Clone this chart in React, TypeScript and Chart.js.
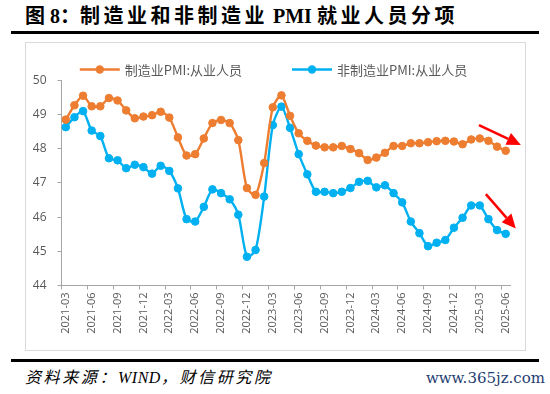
import React, { useEffect, useRef } from "react";
import { Chart, registerables } from "chart.js";

Chart.register(...registerables);

const categories = [
  "2021-03", "2021-04", "2021-05", "2021-06", "2021-07", "2021-08", "2021-09", "2021-10", "2021-11", "2021-12",
  "2022-01", "2022-02", "2022-03", "2022-04", "2022-05", "2022-06", "2022-07", "2022-08", "2022-09", "2022-10", "2022-11", "2022-12",
  "2023-01", "2023-02", "2023-03", "2023-04", "2023-05", "2023-06", "2023-07", "2023-08", "2023-09", "2023-10", "2023-11", "2023-12",
  "2024-01", "2024-02", "2024-03", "2024-04", "2024-05", "2024-06", "2024-07", "2024-08", "2024-09", "2024-10", "2024-11", "2024-12",
  "2025-01", "2025-02", "2025-03", "2025-04", "2025-05", "2025-06",
];

const manufacturing = [
  48.85, 49.27, 49.55, 49.24, 49.24, 49.48, 49.41, 49.12, 48.89, 48.94,
  48.98, 49.08, 48.91, 48.33, 47.80, 47.84, 48.30, 48.75, 48.84, 48.75, 48.25, 46.85,
  46.65, 47.58, 49.21, 49.56, 48.96, 48.45, 48.23, 48.09, 48.04, 48.04, 48.08, 47.99,
  47.87, 47.67, 47.74, 47.88, 48.08, 48.08, 48.16, 48.16, 48.19, 48.22, 48.23, 48.21,
  48.13, 48.27, 48.30, 48.23, 48.06, 47.94,
];

const nonManufacturing = [
  48.63, 48.92, 49.10, 48.53, 48.37, 47.72, 47.66, 47.43, 47.53, 47.46,
  47.27, 47.50, 47.35, 46.84, 45.94, 45.87, 46.30, 46.81, 46.70, 46.52, 46.07, 44.84,
  45.04, 46.60, 48.69, 49.23, 48.61, 47.84, 47.25, 46.74, 46.74, 46.70, 46.74, 46.85,
  47.03, 47.06, 46.87, 46.93, 46.70, 46.43, 45.87, 45.53, 45.15, 45.25, 45.33, 45.69,
  45.98, 46.34, 46.34, 45.94, 45.62, 45.51,
];

const seriesLabels = ["制造业PMI:从业人员", "非制造业PMI:从业人员"];
const seriesColors = ["#ED7D31", "#00B0F0"];
const yMin = 44;
const yMax = 50;
const tickEvery = 3;

// trend arrows in data units: [fromIndex, fromValue, toIndex, toValue]
const trendArrows = [
  [47.9, 48.69, 52.76, 48.11],
  [48.7, 46.67, 52.17, 45.67],
];

// title / source pieces: [text, isCJK]
const titleParts: [string, boolean][] = [
  ["图 8：", false],
  ["制造业和非制造业", true],
  [" PMI ", false],
  ["就业人员分项", true],
];
const sourceParts: [string, boolean][] = [
  ["资料来源：", true],
  ["WIND", false],
  ["，财信研究院", true],
];
const watermark = "www.365jz.com";

const legendPlugin = {
  id: "lineLegend",
  afterDraw(chart: any) {
    const ctx = chart.ctx as CanvasRenderingContext2D;
    ctx.save();
    ctx.font = '13px "Noto Sans CJK SC", "Open Sans", sans-serif';
    const lineLen = 40;
    const textGap = 5;
    const gap = 50;
    const items = chart.data.datasets.map((ds: any) => ({
      label: ds.label,
      color: ds.borderColor,
      w: lineLen + textGap + ctx.measureText(ds.label).width,
    }));
    const total = items.reduce((a: number, b: any) => a + b.w, 0) + gap * (items.length - 1);
    let x = chart.width / 2 - total / 2 - 2;
    const y = 27.5;
    for (const it of items) {
      ctx.strokeStyle = it.color;
      ctx.lineWidth = 2.5;
      ctx.beginPath();
      ctx.moveTo(x, y);
      ctx.lineTo(x + lineLen, y);
      ctx.stroke();
      ctx.fillStyle = it.color;
      ctx.beginPath();
      ctx.arc(x + lineLen / 2, y, 4.2, 0, Math.PI * 2);
      ctx.fill();
      ctx.fillStyle = "#595959";
      ctx.textBaseline = "middle";
      ctx.textAlign = "left";
      ctx.fillText(it.label, x + lineLen + textGap, y + 0.5);
      x += it.w + gap;
    }
    ctx.restore();
  },
};

const arrowPlugin = {
  id: "trendArrows",
  afterDatasetsDraw(chart: any) {
    const ctx = chart.ctx as CanvasRenderingContext2D;
    const xs = chart.scales.x;
    const ys = chart.scales.y;
    ctx.save();
    ctx.strokeStyle = "#FF0000";
    ctx.fillStyle = "#FF0000";
    ctx.lineWidth = 2.5;
    for (const [i0, v0, i1, v1] of trendArrows) {
      const x0 = xs.getPixelForValue(i0);
      const y0 = ys.getPixelForValue(v0);
      const x1 = xs.getPixelForValue(i1);
      const y1 = ys.getPixelForValue(v1);
      const ang = Math.atan2(y1 - y0, x1 - x0);
      const headLen = 14;
      const headHalf = 6.5;
      const bx = x1 - headLen * Math.cos(ang);
      const by = y1 - headLen * Math.sin(ang);
      ctx.beginPath();
      ctx.moveTo(x0, y0);
      ctx.lineTo(bx, by);
      ctx.stroke();
      ctx.beginPath();
      ctx.moveTo(x1, y1);
      ctx.lineTo(bx + headHalf * Math.sin(ang), by - headHalf * Math.cos(ang));
      ctx.lineTo(bx - headHalf * Math.sin(ang), by + headHalf * Math.cos(ang));
      ctx.closePath();
      ctx.fill();
    }
    ctx.restore();
  },
};

export default function App() {
  const canvasRef = useRef<HTMLCanvasElement | null>(null);

  useEffect(() => {
    if (!canvasRef.current) return;
    const axisColor = "#a6a6a6";
    const chart = new Chart(canvasRef.current, {
      type: "line",
      data: {
        labels: categories,
        datasets: [manufacturing, nonManufacturing].map((d, k) => ({
          label: seriesLabels[k],
          data: d,
          borderColor: seriesColors[k],
          backgroundColor: seriesColors[k],
          pointBackgroundColor: seriesColors[k],
          pointBorderColor: seriesColors[k],
          pointRadius: 3.8,
          pointBorderWidth: 1,
          borderWidth: 2.4,
          tension: 0.25,
          fill: false,
        })),
      },
      options: {
        responsive: false,
        animation: false,
        events: [],
        layout: { padding: { top: 38.3, right: 16, left: 0, bottom: 0 } },
        plugins: {
          legend: { display: false },
          tooltip: { enabled: false },
          title: { display: false },
        },
        scales: {
          x: {
            type: "category",
            offset: true,
            afterFit: (s: any) => {
              s.height = 65.5;
            },
            grid: {
              offset: true,
              drawOnChartArea: false,
              drawTicks: true,
              tickLength: 4,
              color: (c: any) => (c.index % tickEvery === 0 ? axisColor : "rgba(0,0,0,0)"),
              tickColor: (c: any) => (c.index % tickEvery === 0 ? axisColor : "rgba(0,0,0,0)"),
            },
            border: { display: true, color: axisColor, width: 1 },
            ticks: {
              autoSkip: false,
              minRotation: 90,
              maxRotation: 90,
              padding: 3,
              color: "#595959",
              font: { family: '"Open Sans", sans-serif', size: 11 },
              callback: (_v: any, i: number) => (i % tickEvery === 0 ? categories[i] : ""),
            },
          },
          y: {
            min: yMin,
            max: yMax,
            afterFit: (s: any) => {
              s.width = 36.5;
            },
            grid: {
              drawOnChartArea: false,
              drawTicks: true,
              tickLength: 4,
              color: axisColor,
            },
            border: { display: true, color: axisColor, width: 1 },
            ticks: {
              stepSize: 1,
              padding: 11,
              color: "#595959",
              font: { family: '"Open Sans", sans-serif', size: 12 },
            },
          },
        },
      },
      plugins: [legendPlugin, arrowPlugin],
    });
    return () => chart.destroy();
  }, []);

  return (
    <div
      style={{
        position: "fixed",
        left: 0,
        top: 0,
        width: 550,
        height: 394,
        background: "#ffffff",
        overflow: "hidden",
      }}
    >
      <div
        style={{
          position: "absolute",
          left: 25,
          top: 3,
          fontFamily: '"Liberation Serif", "Noto Sans CJK SC", serif',
          fontWeight: 700,
          fontSize: 20,
          color: "#000",
          whiteSpace: "pre",
          lineHeight: "26px",
        }}
      >
        {titleParts.map(([t, cjk], i) => (
          <span key={i} style={{ letterSpacing: cjk ? 3.5 : 0 }}>
            {t}
          </span>
        ))}
      </div>
      <div style={{ position: "absolute", left: 11, top: 31, width: 528, height: 3, background: "#000" }} />
      <div style={{ position: "absolute", left: 25, top: 42, width: 501, height: 309 }}>
        <canvas ref={canvasRef} width={501} height={309} style={{ display: "block" }} />
      </div>
      <div
        style={{
          position: "absolute",
          left: 25,
          top: 42,
          width: 501,
          height: 309,
          boxSizing: "border-box",
          border: "1px solid #d9d9d9",
          pointerEvents: "none",
        }}
      />
      <div style={{ position: "absolute", left: 11, top: 359, width: 528, height: 3, background: "#000" }} />
      <div
        style={{
          position: "absolute",
          left: 25,
          top: 367,
          fontFamily: '"Liberation Serif", "Noto Sans CJK SC", serif',
          fontStyle: "italic",
          fontSize: 16,
          color: "#000",
          whiteSpace: "pre",
          lineHeight: "22px",
        }}
      >
        {sourceParts.map(([t, cjk], i) => (
          <span key={i} style={{ letterSpacing: cjk ? 2.6 : 0.5 }}>
            {t}
          </span>
        ))}
      </div>
      <div
        style={{
          position: "absolute",
          right: 5,
          top: 367,
          fontFamily: '"DejaVu Serif", serif',
          fontSize: 15,
          color: "#1f3d73",
          whiteSpace: "pre",
          lineHeight: "22px",
        }}
      >
        {watermark}
      </div>
    </div>
  );
}
